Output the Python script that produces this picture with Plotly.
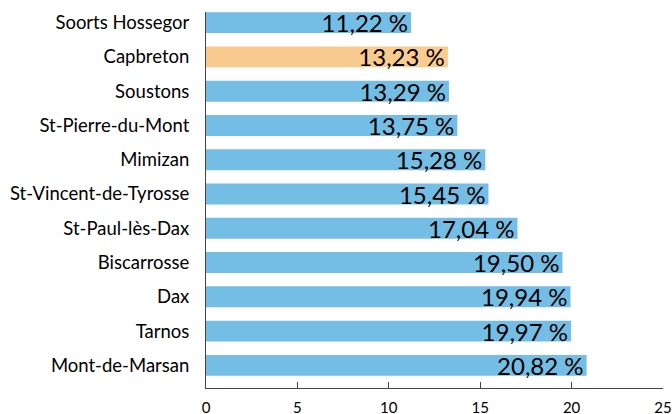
import plotly.graph_objects as go

categories = ["Soorts Hossegor", "Capbreton", "Soustons", "St-Pierre-du-Mont", "Mimizan",
              "St-Vincent-de-Tyrosse", "St-Paul-lès-Dax", "Biscarrosse", "Dax", "Tarnos",
              "Mont-de-Marsan"]
values = [11.22, 13.23, 13.29, 13.75, 15.28, 15.45, 17.04, 19.50, 19.94, 19.97, 20.82]
highlight = "Capbreton"
x_ticks = [0, 5, 10, 15, 20, 25]

colors = ["#FACB8E" if c == highlight else "#74BDE4" for c in categories]
texts = [f"{v:.2f}".replace(".", ",") + " %" for v in values]

fig = go.Figure(go.Bar(
    x=values, y=categories, orientation="h",
    marker=dict(color=colors, line=dict(width=0)),
    width=0.61,
    text=texts, textposition="inside", insidetextanchor="end",
    constraintext="none",
    textfont=dict(family="Lato", size=24, color="black"),
    cliponaxis=False,
))

fig.update_layout(
    width=672, height=414,
    margin=dict(l=206, r=9, t=12, b=26, autoexpand=False),
    paper_bgcolor="white", plot_bgcolor="white",
    showlegend=False,
    font=dict(family="Lato", color="black"),
)
fig.update_xaxes(
    range=[0, 25], tickvals=x_ticks, ticktext=[str(t) for t in x_ticks],
    automargin=False,
    showgrid=False, zeroline=False,
    showline=True, linecolor="#444", linewidth=1,
    ticks="inside", ticklen=6, tickcolor="#444",
    ticklabelstandoff=6,
    tickfont=dict(family="Lato", size=15, color="black"),
)
fig.update_yaxes(
    categoryorder="array", categoryarray=categories,
    range=[10.66, -0.31], automargin=False,
    showgrid=False, zeroline=False,
    showline=True, linecolor="#444", linewidth=1,
    ticks="", ticklabelstandoff=12,
    tickfont=dict(family="Lato", size=18.5, color="black"),
)

fig.write_html("out.html",
               config={"displayModeBar": False},
               post_script="document.body.style.margin='0';document.body.style.overflow='hidden';")
